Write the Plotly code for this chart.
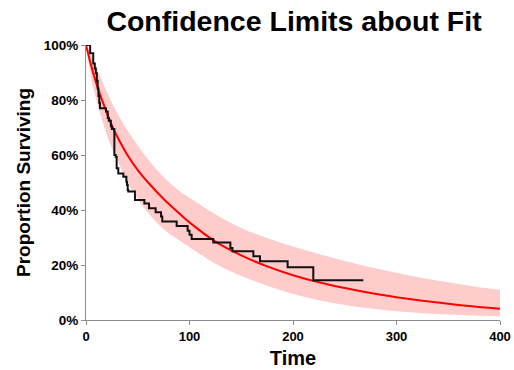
import plotly.graph_objects as go

# Kaplan-Meier style observed survival (step function), time and level after each drop (%)
km_time = [0, 4, 7, 8.5, 9.5, 10.5, 11.3, 12, 12.8, 13.5, 19.3, 21, 22, 24, 25, 27.4, 28.7, 29.6, 31.2,
           36.1, 39, 39.6, 40.3, 40.9, 47.3, 56.4, 60.9, 67.3, 72.5, 73.7, 87.6, 98.2, 100, 102.1,
           123, 139.5, 141.5, 161.7, 168.1, 194.8, 219.6, 268]
km_surv = [100, 97.0, 93.3, 91.5, 89.7, 87.0, 84.2, 81.5, 79.0, 77.0, 75.8, 73.5, 72.5, 70.5, 69.5, 60.0, 59.4, 55.2, 53.3,
           52.1, 50.3, 49.1, 47.3, 46.7, 43.6, 42.4, 40.6, 39.2, 37.6, 35.8, 34.2, 32.5, 31.0, 29.5,
           28.2, 26.2, 25.0, 23.2, 21.4, 19.2, 14.5, 14.5]

# Fitted curve and confidence limits (%)
fit_time = [0, 5, 10, 15, 20, 25, 30, 40, 50, 60, 75, 90, 100, 125, 150, 175, 200, 225, 250, 275, 300, 325, 350, 375, 400]
fit_surv = [100, 92.5, 86.0, 80.5, 75.5, 70.8, 66.8, 60.0, 54.5, 50.0, 44.0, 38.8, 35.5, 28.5, 23.5, 19.5, 16.3, 13.7, 11.6, 9.8, 8.3, 7.0, 5.9, 4.9, 4.1]
upper = [100, 96.5, 92.0, 87.5, 83.0, 79.0, 75.5, 69.0, 63.5, 58.5, 52.0, 47.0, 44.5, 38.5, 33.5, 29.8, 26.7, 24.0, 21.5, 19.2, 17.2, 15.3, 13.7, 12.2, 11.0]
lower = [100, 88.0, 80.0, 73.5, 67.5, 62.5, 58.5, 50.0, 44.0, 39.0, 33.0, 29.0, 26.5, 20.5, 16.0, 12.5, 9.5, 7.2, 5.5, 4.2, 3.2, 2.5, 2.0, 1.6, 1.3]

x_ticks = [0, 100, 200, 300, 400]
y_ticks = [0, 20, 40, 60, 80, 100]

FONT = "Liberation Sans, Arial, sans-serif"

fig = go.Figure()
fig.add_trace(go.Scatter(x=fit_time, y=lower, mode="lines", line=dict(width=0, shape="spline"),
                         showlegend=False, hoverinfo="skip"))
fig.add_trace(go.Scatter(x=fit_time, y=upper, mode="lines", line=dict(width=0, shape="spline"),
                         fill="tonexty", fillcolor="#FFCCCC", showlegend=False, hoverinfo="skip"))
fig.add_trace(go.Scatter(x=fit_time, y=fit_surv, mode="lines", line=dict(color="#FF0000", width=2, shape="spline"),
                         showlegend=False))
fig.add_trace(go.Scatter(x=km_time, y=km_surv, mode="lines", line=dict(color="#111111", width=2, shape="hv"),
                         showlegend=False))

fig.update_layout(
    width=514, height=370,
    margin=dict(l=86, r=14, t=45, b=50),
    paper_bgcolor="white", plot_bgcolor="white",
    title=dict(text="<b>Confidence Limits about Fit</b>", x=0.572, xanchor="center", y=0.943, yanchor="middle",
               font=dict(family=FONT, size=28.5, color="black")),
    font=dict(family=FONT, color="black"),
)
fig.update_xaxes(range=[0, 400], tickvals=x_ticks, ticktext=[f"<b>{v}</b>" for v in x_ticks],
                 automargin=False,
                 showgrid=False, zeroline=False, showline=True, linecolor="#8c8c8c", linewidth=1,
                 ticks="outside", ticklen=4, tickcolor="#8c8c8c", tickfont=dict(size=13, family=FONT),
                 title=dict(text="<b>Time</b>", font=dict(size=20, family=FONT), standoff=8))
fig.update_yaxes(range=[0, 100], tickvals=y_ticks, ticktext=[f"<b>{v}%</b>" for v in y_ticks],
                 automargin=False,
                 showgrid=False, zeroline=False, showline=True, linecolor="#8c8c8c", linewidth=1,
                 ticks="outside", ticklen=4, tickcolor="#8c8c8c", tickfont=dict(size=13.5, family=FONT),
                 title=dict(text="<b>Proportion Surviving</b>", font=dict(size=19, family=FONT), standoff=8))

fig.write_html("out.html")
